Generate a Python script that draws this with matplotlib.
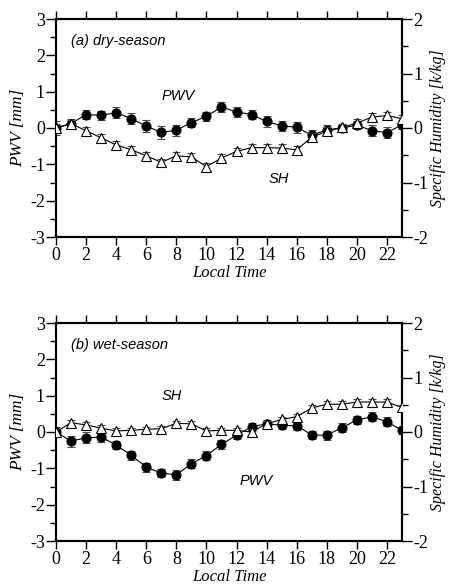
import matplotlib.pyplot as plt
import numpy as np
from matplotlib.ticker import MultipleLocator

plt.rcParams["axes.unicode_minus"] = False

hours = np.arange(24)

# PWV anomalies [mm]
pwv_dry = [0.0, 0.12, 0.37, 0.35, 0.42, 0.26, 0.05, -0.12, -0.06, 0.15, 0.32, 0.58,
           0.44, 0.37, 0.18, 0.06, 0.02, -0.20, -0.05, 0.00, 0.08, -0.07, -0.13, 0.09]
pwv_wet = [0.0, -0.25, -0.16, -0.14, -0.36, -0.64, -0.97, -1.13, -1.18, -0.87, -0.65, -0.34,
           -0.09, 0.14, 0.23, 0.18, 0.17, -0.08, -0.09, 0.12, 0.33, 0.42, 0.28, 0.05]
pwv_err_dry = [0.2, 0.12, 0.13, 0.13, 0.15, 0.15, 0.17, 0.18, 0.15, 0.13, 0.12, 0.13,
               0.13, 0.13, 0.14, 0.14, 0.15, 0.15, 0.12, 0.12, 0.12, 0.14, 0.15, 0.12]
pwv_err_wet = [0.15, 0.15, 0.15, 0.14, 0.12, 0.12, 0.12, 0.12, 0.13, 0.12, 0.12, 0.12,
               0.1, 0.1, 0.1, 0.1, 0.12, 0.12, 0.12, 0.12, 0.12, 0.13, 0.12, 0.1]

# specific humidity anomalies [g/kg]
sh_dry = [0.0, 0.08, -0.05, -0.18, -0.31, -0.40, -0.51, -0.63, -0.51, -0.53, -0.71, -0.55,
          -0.43, -0.36, -0.36, -0.37, -0.40, -0.17, -0.06, 0.01, 0.09, 0.20, 0.23, 0.17]
sh_wet = [0.0, 0.17, 0.13, 0.07, 0.02, 0.03, 0.05, 0.06, 0.16, 0.15, 0.02, 0.03,
          0.03, 0.00, 0.15, 0.23, 0.28, 0.44, 0.51, 0.51, 0.55, 0.55, 0.55, 0.45]
sh_err_dry = [0.07] * 24
sh_err_wet = [0.05] * 24

panels = [
    ("(a) dry-season", pwv_dry, pwv_err_dry, sh_dry, sh_err_dry,
     (8.1, 0.88), (14.8, -1.4)),
    ("(b) wet-season", pwv_wet, pwv_err_wet, sh_wet, sh_err_wet,
     (13.3, -1.36), (7.7, 1.0)),
]

serif = "Liberation Serif"
sans = "Liberation Sans"

fig = plt.figure(figsize=(4.5, 5.86), dpi=100)
boxes = [(56 / 450, 1 - 237 / 586, 346 / 450, 218 / 586),
         (56 / 450, 1 - 541 / 586, 346 / 450, 218 / 586)]

for box, (title, pwv, pwv_err, sh, sh_err, pwv_pos, sh_pos) in zip(boxes, panels):
    ax = fig.add_axes(box)
    ax2 = ax.twinx()

    ax.errorbar(hours, pwv, yerr=pwv_err, color="black", marker="o", markersize=6.3,
                linewidth=0.8, ecolor="0.3", elinewidth=0.8, capsize=3, capthick=0.8,
                zorder=2)
    ax2.errorbar(hours, sh, yerr=sh_err, color="black", marker="^", markersize=6.5,
                 markerfacecolor="white", markeredgewidth=0.8, linewidth=0.8,
                 ecolor="0.3", elinewidth=0.8, capsize=3, capthick=0.8, zorder=3)

    ax.set_xlim(0, 23)
    ax.set_ylim(-3, 3)
    ax2.set_ylim(-2, 2)

    ax.set_xticks(np.arange(0, 23, 2))
    ax.yaxis.set_major_locator(MultipleLocator(1))
    ax.yaxis.set_minor_locator(MultipleLocator(0.5))
    ax2.yaxis.set_major_locator(MultipleLocator(1))
    ax2.yaxis.set_minor_locator(MultipleLocator(0.5))

    ax.tick_params(axis="x", which="both", direction="out", top=True, length=6,
                   width=1, pad=1)
    ax.tick_params(axis="y", which="major", direction="out", length=7, width=1, pad=1)
    ax.tick_params(axis="y", which="minor", direction="out", length=4, width=1)
    ax2.tick_params(axis="y", which="major", direction="out", length=7, width=1, pad=1)
    ax2.tick_params(axis="y", which="minor", direction="out", length=4, width=1)

    for a in (ax, ax2):
        for sp in a.spines.values():
            sp.set_linewidth(1.5)
        for lab in a.get_xticklabels() + a.get_yticklabels():
            lab.set_fontfamily(serif)
            lab.set_fontsize(13)

    ax.set_xlabel("Local Time", fontfamily=serif, fontstyle="italic", fontsize=12,
                  labelpad=1)
    ax.set_ylabel("PWV [mm]", fontfamily=serif, fontstyle="italic", fontsize=12.5,
                  labelpad=3)
    ax2.set_ylabel("Specific Humidity [k/kg]", fontfamily=serif, fontstyle="italic",
                   fontsize=11.5, labelpad=1)

    ax.text(1.0, 2.4, title, fontfamily=sans, fontstyle="italic", fontsize=10.5,
            va="center", ha="left")
    ax.text(pwv_pos[0], pwv_pos[1], "PWV", fontfamily=sans, fontstyle="italic",
            fontsize=10.5, va="center", ha="center")
    ax.text(sh_pos[0], sh_pos[1], "SH", fontfamily=sans, fontstyle="italic",
            fontsize=10.5, va="center", ha="center")

fig.savefig("out.png", dpi=100)
